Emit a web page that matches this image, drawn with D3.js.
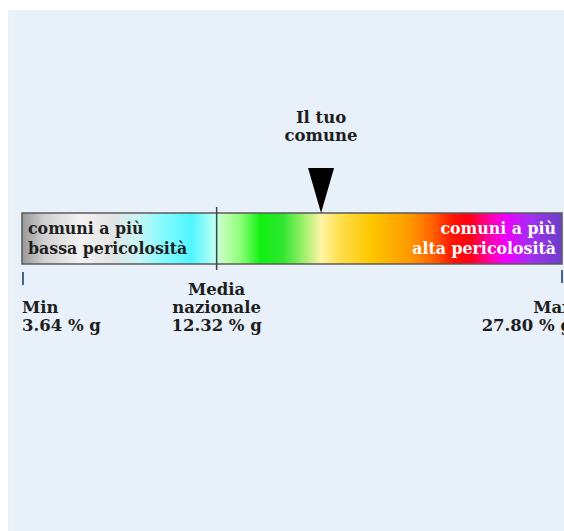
<!DOCTYPE html>
<html>
<head>
<meta charset="utf-8">
<script src="https://cdn.jsdelivr.net/npm/d3@7"></script>
<style>
  html, body { margin: 0; padding: 0; background: #ffffff; }
  svg { display: block; }
  text { font-family: "DejaVu Serif", serif; font-weight: bold; }
</style>
</head>
<body>
<div id="chart"></div>
<script>
// ---- data ----
const minValue = 3.64;
const maxValue = 27.80;
const meanValue = 12.32;
const comuneValue = 17.0;
const unitLabel = "% g";
const minLabel = "Min";
const maxLabel = "Max";
const meanLabel = ["Media", "nazionale"];
const comuneLabel = ["Il tuo", "comune"];
const lowLabel = ["comuni a più", "bassa pericolosità"];
const highLabel = ["comuni a più", "alta pericolosità"];
// gradient stops (value on scale, colour)
const stopValues = [3.64, 4.6, 6.2, 7.6, 8.8, 10.0, 11.2, 12.2, 12.6, 13.4, 14.3, 15.3, 16.3, 17.0, 17.8, 19.2, 21.0, 22.0, 22.9, 23.7, 24.6, 25.3, 26.4, 27.8];
const stopColors = ["#9a9a9a", "#d0d0d0", "#f2f2f2", "#e4e4e4", "#c8f4f4", "#80fbff", "#50f6ff", "#b8fff4", "#c4ffb8", "#8cff78", "#10f010", "#30e630", "#a8f070", "#fff4a8", "#ffe050", "#ffc800", "#ff9800", "#ff6200", "#ff1400", "#ff0018", "#ff00b0", "#ee00ff", "#a030f0", "#6a40c8"];

const W = 564, H = 531;
const svg = d3.select("#chart").append("svg").attr("width", W).attr("height", H);

// background panel
svg.append("rect").attr("x", 8).attr("y", 10).attr("width", W - 8).attr("height", H - 10).attr("fill", "#e8f0f9");
svg.append("rect").attr("x", 8).attr("y", 10).attr("width", 6).attr("height", H - 10).attr("fill", "#edf2f9");

const x = d3.scaleLinear().domain([minValue, maxValue]).range([23, 562]);

const barTop = 213, barBottom = 264;

// gradient
const defs = svg.append("defs");
const grad = defs.append("linearGradient").attr("id", "g").attr("gradientUnits", "userSpaceOnUse")
  .attr("x1", x(minValue)).attr("x2", x(maxValue)).attr("y1", 0).attr("y2", 0);
stopValues.forEach((v, i) => {
  grad.append("stop")
    .attr("offset", (x(v) - x(minValue)) / (x(maxValue) - x(minValue)))
    .attr("stop-color", stopColors[i]);
});

svg.append("rect")
  .attr("x", x(minValue) - 1).attr("y", barTop)
  .attr("width", x(maxValue) - x(minValue) + 1).attr("height", barBottom - barTop)
  .attr("fill", "url(#g)").attr("stroke", "#5a5a5a").attr("stroke-width", 1.5);

// low / high labels inside bar
const lowG = svg.append("text").attr("fill", "#1e1e1e").attr("font-size", 15.8);
lowLabel.forEach((t, i) => lowG.append("tspan").attr("x", x(minValue) + 5).attr("y", 234 + i * 20).text(t));
const highG = svg.append("text").attr("fill", "#ffffff").attr("font-size", 15.8).attr("text-anchor", "end");
highLabel.forEach((t, i) => highG.append("tspan").attr("x", x(maxValue) - 6).attr("y", 234 + i * 20).text(t));

// mean line
svg.append("line").attr("x1", x(meanValue)).attr("x2", x(meanValue))
  .attr("y1", 207).attr("y2", 270).attr("stroke", "#3c4450").attr("stroke-width", 1.5);

// min / max ticks
svg.append("line").attr("x1", x(minValue)).attr("x2", x(minValue))
  .attr("y1", 272).attr("y2", 285).attr("stroke", "#4a6488").attr("stroke-width", 2);
svg.append("line").attr("x1", x(maxValue)).attr("x2", x(maxValue))
  .attr("y1", 270).attr("y2", 283).attr("stroke", "#4a6488").attr("stroke-width", 2);

// comune marker
const cx = x(comuneValue);
svg.append("path")
  .attr("d", `M${cx - 13},168 L${cx + 13},168 L${cx},213 Z`)
  .attr("fill", "#000");
const cT = svg.append("text").attr("fill", "#1e1e1e").attr("font-size", 16.5).attr("text-anchor", "middle");
comuneLabel.forEach((t, i) => cT.append("tspan").attr("x", cx).attr("y", 123 + i * 18).text(t));

// value labels
const fmt = d3.format(".2f");
const fs = 16.5;
const minT = svg.append("text").attr("fill", "#1e1e1e").attr("font-size", fs);
minT.append("tspan").attr("x", x(minValue) - 1).attr("y", 313).text(minLabel);
minT.append("tspan").attr("x", x(minValue) - 1).attr("y", 331).text(`${fmt(minValue)} ${unitLabel}`);

const meanT = svg.append("text").attr("fill", "#1e1e1e").attr("font-size", fs).attr("text-anchor", "middle");
meanLabel.concat([`${fmt(meanValue)} ${unitLabel}`]).forEach((t, i) =>
  meanT.append("tspan").attr("x", x(meanValue)).attr("y", 295 + i * 18).text(t));

const maxT = svg.append("text").attr("fill", "#1e1e1e").attr("font-size", fs).attr("text-anchor", "end");
maxT.append("tspan").attr("x", x(maxValue) + 10).attr("y", 313).text(maxLabel);
maxT.append("tspan").attr("x", x(maxValue) + 10).attr("y", 331).text(`${fmt(maxValue)} ${unitLabel}`);
</script>
</body>
</html>
